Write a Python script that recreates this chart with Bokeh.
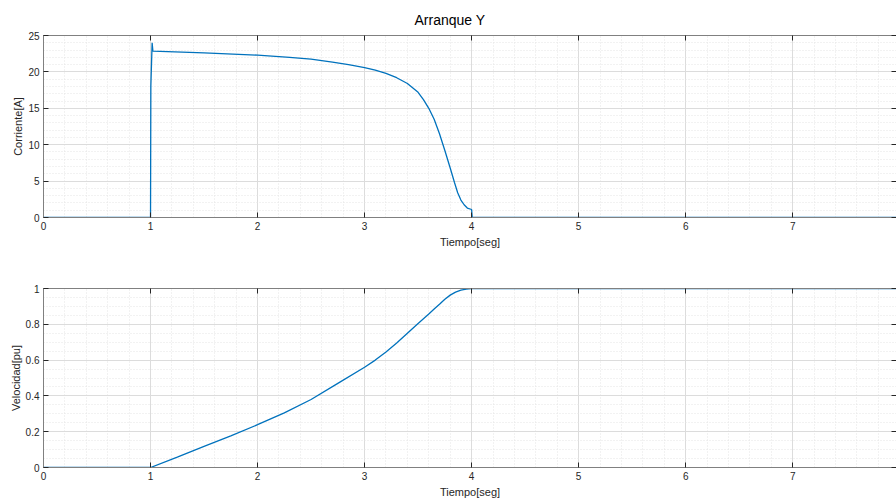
from bokeh.plotting import figure
from bokeh.models import Range1d, FixedTicker, LinearAxis, Title
from bokeh.layouts import column
from bokeh.embed import file_html
from bokeh.resources import INLINE

# ---- data ----
t_current = [0.0, 1.0, 1.003, 1.015, 1.022, 1.5, 2.0, 2.3, 2.5, 2.7, 2.85, 3.0, 3.1,
             3.2, 3.3, 3.4, 3.5, 3.55, 3.6, 3.65, 3.7, 3.75, 3.8, 3.84, 3.87, 3.9,
             3.93, 3.96, 4.0, 4.006, 7.97]
current = [0.0, 0.0, 18.0, 24.0, 22.85, 22.6, 22.3, 22.0, 21.75, 21.35, 21.0, 20.6, 20.25,
           19.8, 19.2, 18.4, 17.2, 16.2, 15.0, 13.5, 11.5, 9.2, 6.8, 4.8, 3.4, 2.4,
           1.75, 1.3, 1.1, 0.0, 0.0]

t_speed = [0.0, 1.0, 1.25, 1.5, 1.75, 2.0, 2.25, 2.5, 2.75, 3.0, 3.1, 3.2, 3.3, 3.4,
           3.5, 3.6, 3.65, 3.7, 3.75, 3.8, 3.85, 3.9, 3.95, 4.0, 7.97]
speed = [0.0, 0.0, 0.058, 0.118, 0.177, 0.239, 0.305, 0.38, 0.47, 0.56, 0.60, 0.645,
         0.695, 0.75, 0.805, 0.858, 0.885, 0.912, 0.94, 0.963, 0.98, 0.991, 0.997, 1.0, 1.0]

x_ticks = [0, 1, 2, 3, 4, 5, 6, 7, 8]
x_minor = [i * 0.2 for i in range(0, 41)]
y1_ticks = [0, 5, 10, 15, 20, 25]
y1_minor = list(range(0, 26))
y2_ticks = [0, 0.2, 0.4, 0.6, 0.8, 1.0]
y2_tick_labels = ["0", "0.2", "0.4", "0.6", "0.8", "1"]
y2_minor = [i * 0.05 for i in range(0, 21)]

TITLE = "Arranque Y"
XLABEL = "Tiempo[seg]"
Y1LABEL = "Corriente[A]"
Y2LABEL = "Velocidad[pu]"

LINE = "#0072BD"
FONT = "Liberation Sans"
TXT = "#262626"
AXIS = "#808080"
GRID = "#DCDCDC"
MINOR = "#E4E4E4"
XMAX = 7.97


def style_axis(ax, ticks, minor, labels=True, overrides=None, line=True):
    ax.ticker = FixedTicker(ticks=ticks, minor_ticks=minor)
    ax.major_tick_in = 5
    ax.major_tick_out = 0
    ax.minor_tick_in = 0
    ax.minor_tick_out = 0
    ax.major_tick_line_color = TXT
    ax.major_tick_line_width = 1
    ax.axis_line_color = AXIS if line else None
    ax.axis_line_width = 1
    if labels:
        ax.major_label_text_font = FONT
        ax.major_label_text_font_size = "10px"
        ax.major_label_text_color = TXT
        ax.major_label_standoff = 4
        if overrides:
            ax.major_label_overrides = overrides
    else:
        ax.major_label_text_font_size = "1px"
        ax.major_label_text_color = None
        ax.major_label_standoff = 0


def make_fig(h, top, bottom, yrange, yticks, yminor, ylabel, overrides=None):
    p = figure(width=896, height=h, output_backend="svg", toolbar_location=None,
               x_range=Range1d(0, XMAX), y_range=yrange,
               min_border_left=43, min_border_right=0,
               min_border_top=top, min_border_bottom=bottom,
               outline_line_color=None, background_fill_color="white",
               border_fill_color="white")
    style_axis(p.xaxis[0], x_ticks, x_minor)
    style_axis(p.yaxis[0], yticks, yminor, overrides=overrides)
    p.xaxis[0].axis_label = XLABEL
    p.yaxis[0].axis_label = ylabel
    for ax in (p.xaxis[0], p.yaxis[0]):
        ax.axis_label_text_font = FONT
        ax.axis_label_text_font_size = "11px"
        ax.axis_label_text_font_style = "normal"
        ax.axis_label_text_color = TXT
        ax.axis_label_standoff = 3
    p.yaxis[0].axis_label_standoff = 1

    top_ax = LinearAxis()
    style_axis(top_ax, x_ticks, x_minor, labels=False)
    p.add_layout(top_ax, "above")
    right_ax = LinearAxis()
    style_axis(right_ax, yticks, yminor, labels=False, line=False)
    p.add_layout(right_ax, "right")

    for g in (p.xgrid[0], p.ygrid[0]):
        g.grid_line_color = GRID
        g.grid_line_width = 1
        g.minor_grid_line_color = MINOR
        g.minor_grid_line_dash = "1 2"
        g.minor_grid_line_width = 1
    p.xgrid[0].ticker = FixedTicker(ticks=x_ticks, minor_ticks=x_minor)
    p.ygrid[0].ticker = FixedTicker(ticks=yticks, minor_ticks=yminor)
    return p


p1 = make_fig(252, 35, 35, Range1d(0, 25), y1_ticks, y1_minor, Y1LABEL)
p1.title = Title(text=TITLE, align="left", text_font=FONT, text_font_size="14px",
                 text_font_style="normal", text_color="black", offset=371, standoff=16)
p1.line(t_current, current, line_color=LINE, line_width=1.3)

p2 = make_fig(248, 36, 30, Range1d(0, 1), y2_ticks, y2_minor, Y2LABEL,
              overrides={t: s for t, s in zip(y2_ticks, y2_tick_labels)})
p2.line(t_speed, speed, line_color=LINE, line_width=1.3)

layout = column(p1, p2, spacing=0)
open("out.html", "w").write(file_html(layout, INLINE))
